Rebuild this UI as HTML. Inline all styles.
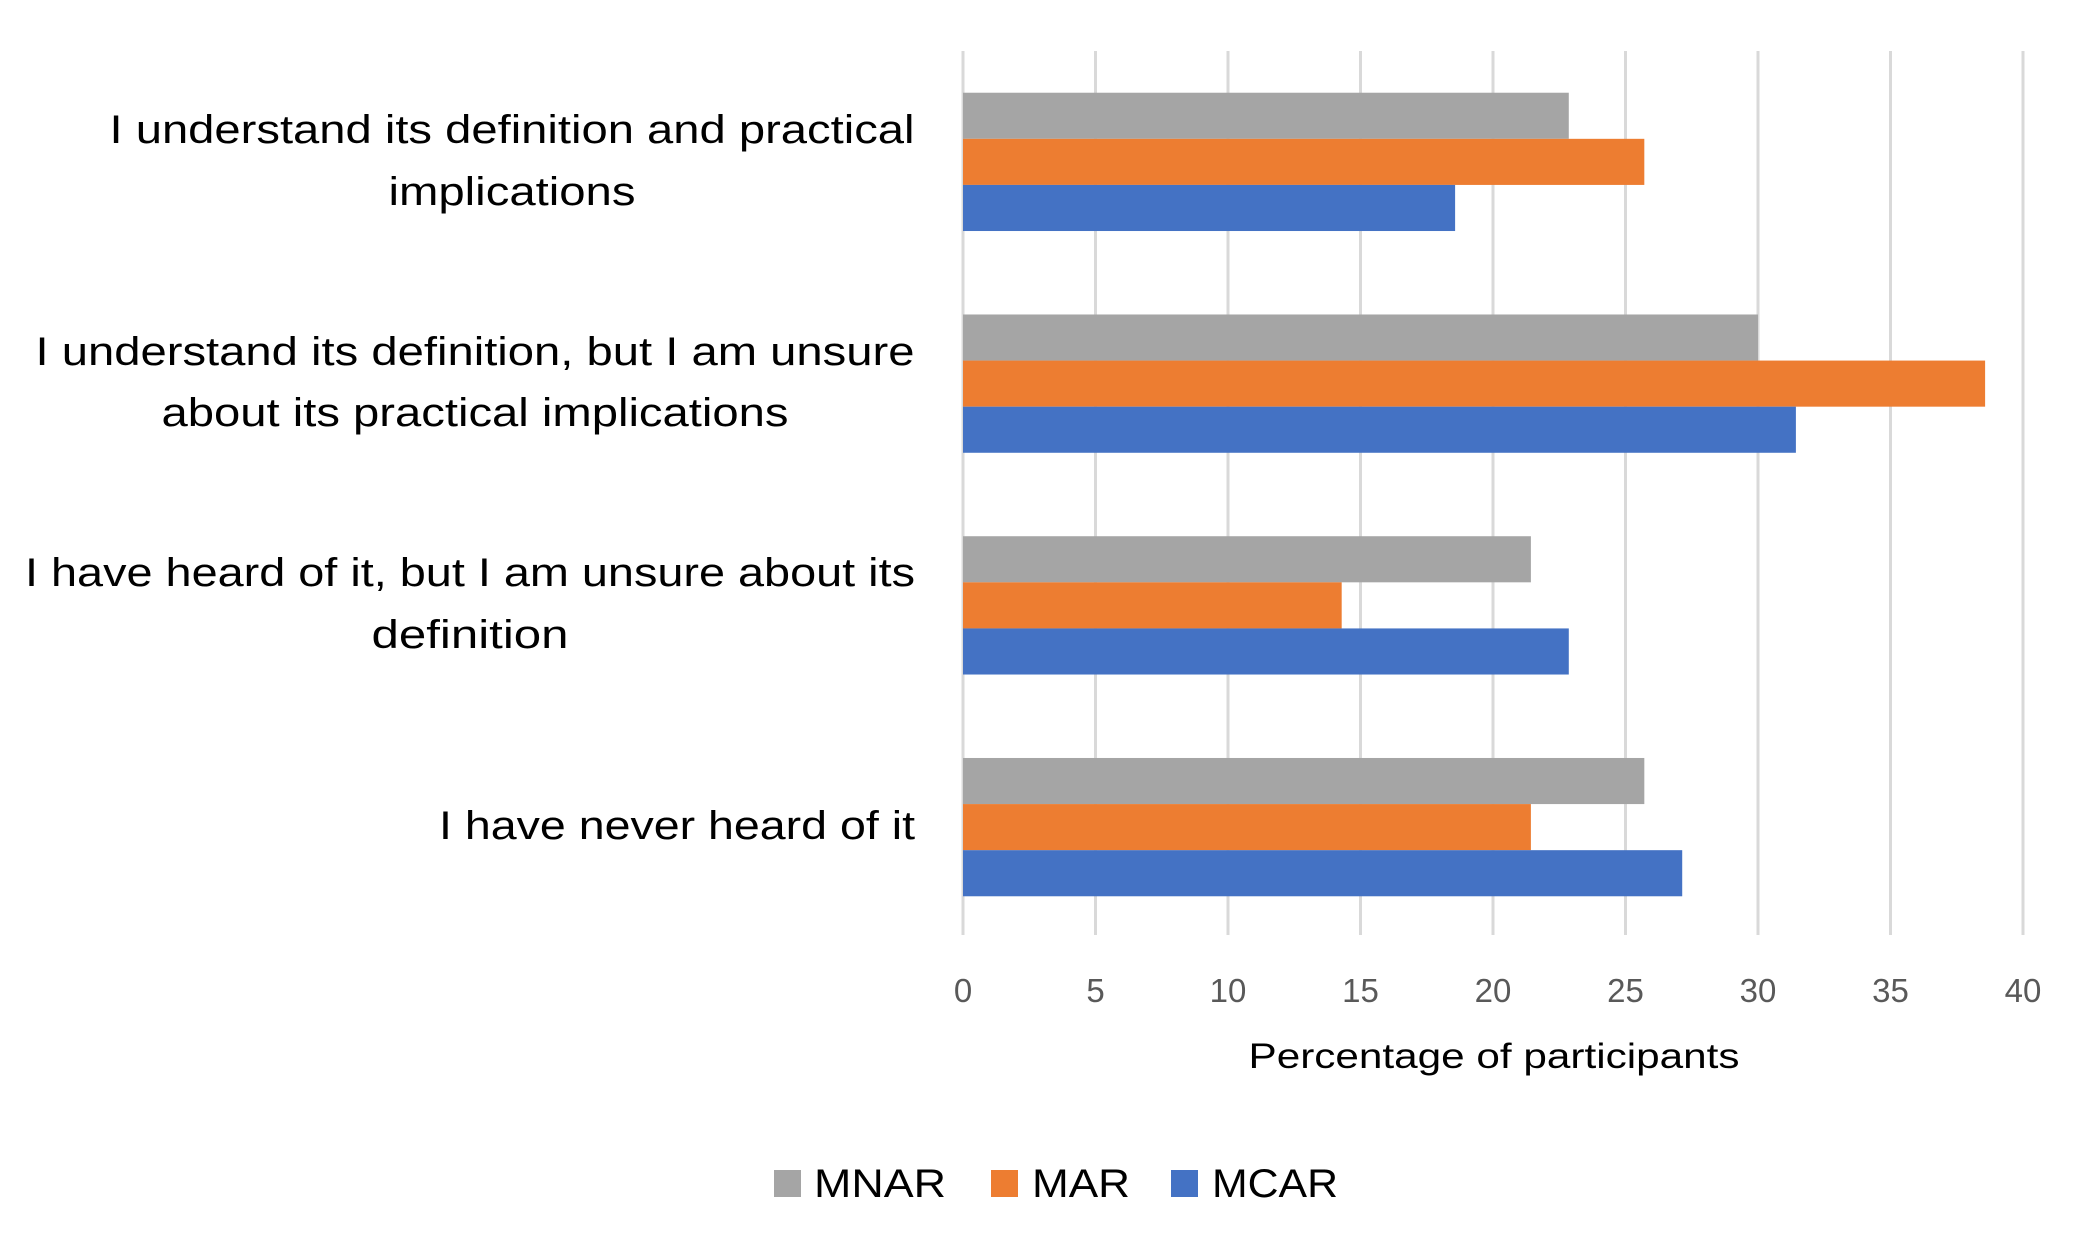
<!DOCTYPE html>
<html><head><meta charset="utf-8"><style>
html,body{margin:0;padding:0;background:#fff;}
svg{display:block;font-family:"Liberation Sans",sans-serif;}
</style></head><body>
<svg id="chart" width="2093" height="1256" viewBox="0 0 2093 1256">
<g id="grid"></g>
<g id="bars"></g>
<g id="ticks"></g>
<g font-size="40" fill="#000">
  <text text-anchor="middle" x="512" y="143" textLength="805" lengthAdjust="spacingAndGlyphs">I understand its definition and practical</text>
  <text text-anchor="middle" x="512" y="205" textLength="247" lengthAdjust="spacingAndGlyphs">implications</text>
  <text text-anchor="middle" x="475" y="365" textLength="879" lengthAdjust="spacingAndGlyphs">I understand its definition, but I am unsure</text>
  <text text-anchor="middle" x="475" y="426" textLength="627" lengthAdjust="spacingAndGlyphs">about its practical implications</text>
  <text text-anchor="middle" x="470" y="586" textLength="890" lengthAdjust="spacingAndGlyphs">I have heard of it, but I am unsure about its</text>
  <text text-anchor="middle" x="470" y="648" textLength="197" lengthAdjust="spacingAndGlyphs">definition</text>
  <text text-anchor="end" x="915" y="839" textLength="476" lengthAdjust="spacingAndGlyphs">I have never heard of it</text>
</g>
<text x="1494" y="1068" text-anchor="middle" font-size="35" fill="#000" textLength="491" lengthAdjust="spacingAndGlyphs">Percentage of participants</text>
<g font-size="40" fill="#000">
  <rect x="774" y="1170" width="27" height="27" fill="#a5a5a5"/>
  <text x="814" y="1197" textLength="132" lengthAdjust="spacingAndGlyphs">MNAR</text>
  <rect x="991" y="1170" width="27" height="27" fill="#ed7d31"/>
  <text x="1032" y="1197" textLength="98" lengthAdjust="spacingAndGlyphs">MAR</text>
  <rect x="1171" y="1170" width="27" height="27" fill="#4472c4"/>
  <text x="1212" y="1197" textLength="126" lengthAdjust="spacingAndGlyphs">MCAR</text>
</g>
</svg>
<script>
const categories = ["I understand its definition and practical implications","I understand its definition, but I am unsure about its practical implications","I have heard of it, but I am unsure about its definition","I have never heard of it"];
const seriesNames = ["MNAR","MAR","MCAR"];
const mnarValues = [22.86, 30, 21.43, 25.71];
const marValues = [25.71, 38.57, 14.29, 21.43];
const mcarValues = [18.57, 31.43, 22.86, 27.14];
const tickValues = [0,5,10,15,20,25,30,35,40];
const tickLabels = ["0","5","10","15","20","25","30","35","40"];

const NS = "http://www.w3.org/2000/svg";
const x0 = 963, x1 = 2023, xMax = 40, plotTop = 51, plotBottom = 938, gridBottom = 935;
const bandH = (plotBottom - plotTop) / categories.length;
const barH = 46.1;
const colors = ["#a5a5a5","#ed7d31","#4472c4"];
const allSeries = [mnarValues, marValues, mcarValues];
function xScale(v){ return x0 + (x1 - x0) * v / xMax; }
function bandY(i){ return plotTop + i * bandH + (bandH - 3 * barH) / 2; }

const grid = document.getElementById('grid');
const ticks = document.getElementById('ticks');
tickValues.forEach((t, i) => {
  const l = document.createElementNS(NS, 'line');
  
  
  l.setAttribute('x1', xScale(t)); l.setAttribute('x2', xScale(t));
  l.setAttribute('y1', plotTop); l.setAttribute('y2', gridBottom);
  l.setAttribute('stroke', '#d9d9d9'); l.setAttribute('stroke-width', '3');
  grid.appendChild(l);
  const tx = document.createElementNS(NS, 'text');
  
  
  tx.setAttribute('x', xScale(t)); tx.setAttribute('y', 1002);
  tx.setAttribute('text-anchor', 'middle'); tx.setAttribute('font-size', '33');
  tx.setAttribute('fill', '#595959');
  tx.textContent = tickLabels[i];
  ticks.appendChild(tx);
});

const bars = document.getElementById('bars');
categories.forEach((c, i) => {
  allSeries.forEach((s, k) => {
    const r = document.createElementNS(NS, 'rect');
    
    
    r.setAttribute('x', x0);
    r.setAttribute('y', bandY(i) + k * barH);
    r.setAttribute('width', xScale(s[i]) - x0);
    r.setAttribute('height', barH);
    r.setAttribute('fill', colors[k]);
    bars.appendChild(r);
  });
});
</script>
</body></html>
